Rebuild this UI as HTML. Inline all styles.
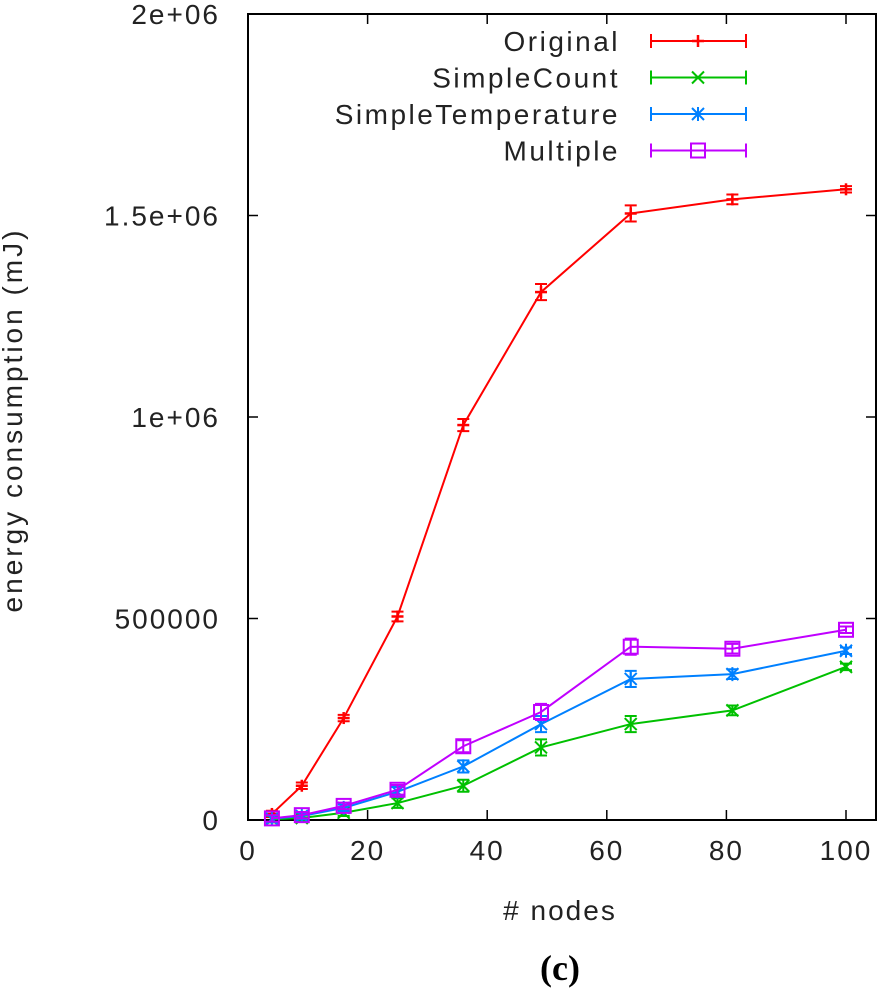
<!DOCTYPE html>
<html><head><meta charset="utf-8"><style>
body{margin:0;background:#fff}
svg text{font-family:"Liberation Sans",sans-serif;fill:#222;letter-spacing:2px}
</style></head><body>
<svg width="878" height="1000" xmlns="http://www.w3.org/2000/svg">
<g id="axes"></g><g id="series"></g><g id="legend"></g>
<text x="22" y="420" font-size="28" text-anchor="middle" transform="rotate(-90 22 420)" style="letter-spacing:3px">energy consumption (mJ)</text>
<text x="560" y="920" font-size="28" text-anchor="middle"># nodes</text>
<text x="560" y="980" font-size="36" font-weight="bold" text-anchor="middle" style="font-family:'Liberation Serif',serif;fill:#000;letter-spacing:0">(c)</text>
</svg>
<script>
const xs=[4,9,16,25,36,49,64,81,100];
const original=[15000,85000,253000,505000,980000,1310000,1505000,1540000,1565000];
const simpleCount=[2000,5000,18000,42000,85000,180000,238000,272000,380000];
const simpleTemp=[3000,10000,30000,70000,133000,238000,350000,362000,420000];
const multiple=[4000,12000,35000,75000,183000,268000,430000,425000,472000];
const errs=[8000,8000,8000,12000,15000,20000,20000,12000,8000];
const xTicks=[0,20,40,60,80,100];
const yTicks=[0,500000,1000000,1500000,2000000];
const yLabels=["0","500000","1e+06","1.5e+06","2e+06"];
const names=["Original","SimpleCount","SimpleTemperature","Multiple"];
const colors=["#ff0000","#00c000","#0080ff","#c000ff"];
const L=248,R=876,T=14,B=820;
const X=v=>L+(v/100)*(846-L);
const Y=v=>B-(v/2000000)*(B-T);
const NS="http://www.w3.org/2000/svg";
function mk(p,t,a){const e=document.createElementNS(NS,t);for(const k in a)e.setAttribute(k,a[k]);p.appendChild(e);return e;}
const ax=document.getElementById('axes');
const fr=mk(ax,'rect',{x:L,y:T,width:R-L,height:B-T,fill:'none',stroke:'#000','stroke-width':2});


xTicks.forEach(t=>{const x=X(t);
mk(ax,'line',{x1:x,y1:B,x2:x,y2:B-10,stroke:'#000','stroke-width':1.5});mk(ax,'line',{x1:x,y1:T,x2:x,y2:T+10,stroke:'#000','stroke-width':1.5});
const tx=mk(ax,'text',{x:x,y:B+40,'font-size':28,'text-anchor':'middle'});tx.textContent=t;

});
yTicks.forEach((t,i)=>{const y=Y(t);
mk(ax,'line',{x1:L,y1:y,x2:L+10,y2:y,stroke:'#000','stroke-width':1.5});mk(ax,'line',{x1:R,y1:y,x2:R-10,y2:y,stroke:'#000','stroke-width':1.5});
const tx=mk(ax,'text',{x:220,y:y+10,'font-size':28,'text-anchor':'end'});tx.textContent=yLabels[i];

});
function marker(g,k,x,y,c){
 if(k===0){mk(g,'line',{x1:x-6,y1:y,x2:x+6,y2:y,stroke:c,'stroke-width':2.5});mk(g,'line',{x1:x,y1:y-6,x2:x,y2:y+6,stroke:c,'stroke-width':2.5});}
 else if(k===1){mk(g,'path',{d:`M${x-6} ${y-6}L${x+6} ${y+6}M${x-6} ${y+6}L${x+6} ${y-6}`,stroke:c,'stroke-width':2});}
 else if(k===2){mk(g,'path',{d:`M${x-6} ${y-6}L${x+6} ${y+6}M${x-6} ${y+6}L${x+6} ${y-6}M${x} ${y-7}L${x} ${y+7}`,stroke:c,'stroke-width':2});}
 else mk(g,'rect',{x:x-7,y:y-7,width:14,height:14,fill:'none',stroke:c,'stroke-width':2});
}
const ser=document.getElementById('series');
[original,simpleCount,simpleTemp,multiple].forEach((vals,k)=>{
 const c=colors[k];const g=mk(ser,'g',{});
 
 
 mk(g,'polyline',{points:xs.map((x,i)=>X(x)+','+Y(vals[i])).join(' '),fill:'none',stroke:c,'stroke-width':2});
 xs.forEach((x,i)=>{const px=X(x),y1=Y(vals[i]-errs[i]),y2=Y(vals[i]+errs[i]);
  mk(g,'path',{d:`M${px} ${y1}L${px} ${y2}M${px-6} ${y1}L${px+6} ${y1}M${px-6} ${y2}L${px+6} ${y2}`,stroke:c,'stroke-width':2});
  marker(g,k,px,Y(vals[i]),c);});
});
const lg=document.getElementById('legend');
names.forEach((n,k)=>{const y=41+k*36.5,c=colors[k];const g=mk(lg,'g',{});
 
 
 const t=mk(g,'text',{x:620,y:y+10,'font-size':28,'text-anchor':'end',style:'letter-spacing:2.5px'});t.textContent=n;
 mk(g,'path',{d:`M651 ${y}L746 ${y}M651 ${y-7}L651 ${y+7}M746 ${y-7}L746 ${y+7}`,stroke:c,'stroke-width':2});
 marker(g,k,698,y,c);});
</script>
</body></html>
